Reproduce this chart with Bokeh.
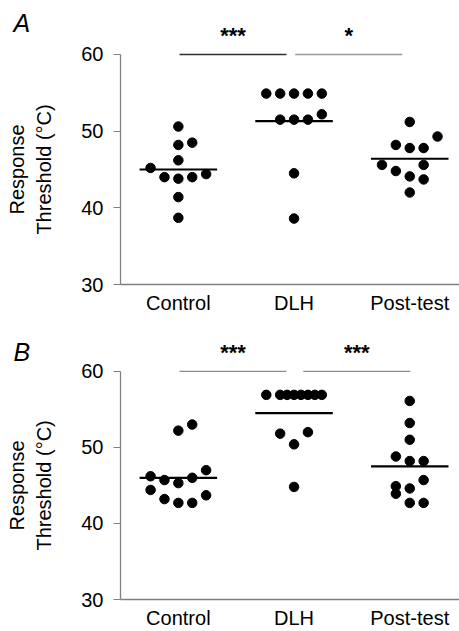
import math
from bokeh.plotting import figure
from bokeh.models import Label, FixedTicker
from bokeh.layouts import column
from bokeh.embed import file_html
from bokeh.resources import INLINE
from bokeh.core.properties import value

groups = ["Control", "DLH", "Post-test"]
y_ticks = [30, 40, 50, 60]
y_title = "Response\nThreshold (\u00b0C)"

# Panel A values (deg C) and horizontal dot slots
a_control = [50.6, 48.2, 48.5, 46.2, 45.2, 44.0, 43.8, 44.0, 44.4, 41.4, 38.7]
a_control_slot = [0, 0, 1, 0, -2, -1, 0, 1, 2, 0, 0]
a_dlh = [54.9, 54.9, 54.9, 54.9, 54.9, 51.5, 51.5, 51.5, 52.2, 44.5, 38.6]
a_dlh_slot = [-2, -1, 0, 1, 2, -1, 0, 1, 2, 0, 0]
a_post = [51.2, 49.3, 48.2, 47.8, 47.8, 45.6, 45.6, 44.8, 44.1, 43.7, 42.0]
a_post_slot = [0, 2, -1, 0, 1, -2, 1, -1, 0, 1, 0]
a_means = [45.0, 51.3, 46.4]
a_stars = ["***", "*"]

# Panel B values
b_control = [53.0, 52.2, 47.0, 46.2, 46.0, 45.7, 45.3, 44.4, 43.7, 43.2, 42.7, 42.7]
b_control_slot = [1, 0, 2, -2, 1, -1, 0, -2, 2, -1, 0, 1]
b_dlh = [56.9, 56.9, 56.9, 56.9, 56.9, 56.9, 56.9, 56.9, 51.8, 52.0, 50.4, 44.8]
b_dlh_slot = [-2, -1, -0.5, 0, 0.5, 1, 1.5, 2, -1, 1, 0, 0]
b_post = [56.1, 53.2, 51.0, 48.8, 48.2, 48.2, 45.7, 44.9, 44.6, 43.9, 42.7, 42.7]
b_post_slot = [0, 0, 0, -1, 0, 1, 1, -1, 0, -1, 0, 1]
b_means = [46.0, 54.5, 47.5]
b_stars = ["***", "***"]

comparisons = [(1, 2), (2, 3)]
SLOT = 0.12
FONT = "Liberation Sans"
AXIS_GRAY = "#808080"


def panel(letter, series, slots, means, stars, height, ymax, bottom, letter_y,
          line_colors, line_shift):
    p = figure(width=459, height=height, x_range=(0.5, 3.43), y_range=(30, ymax),
               output_backend="svg", toolbar_location=None,
               min_border_left=120, min_border_right=0, min_border_top=0,
               min_border_bottom=bottom)
    p.outline_line_color = None
    p.xgrid.visible = False
    p.ygrid.visible = False

    for gi, (vals, sl) in enumerate(zip(series, slots)):
        xs = [gi + 1 + s * SLOT for s in sl]
        p.scatter(xs, vals, size=9.5, color="black")
        p.segment(x0=[gi + 1 - 0.335], x1=[gi + 1 + 0.335], y0=[means[gi]], y1=[means[gi]],
                  line_color="black", line_width=2.2)

    for (a, b), s, c, sh in zip(comparisons, stars, line_colors, line_shift):
        x0 = a + 0.01 + sh
        x1 = b - 0.065 + sh
        p.segment(x0=[x0], x1=[x1], y0=[60], y1=[60], line_color=c, line_width=1.3)
        p.text(x=[(x0 + x1) / 2], y=[62.5], text=[s], text_align="center",
               text_baseline="alphabetic", text_font=value(FONT),
               text_font_size="22px", text_font_style="bold", text_color="black")

    xa = p.xaxis[0]
    xa.ticker = FixedTicker(ticks=[1, 2, 3])
    xa.major_label_overrides = {1: groups[0], 2: groups[1], 3: groups[2]}
    xa.major_tick_in = 0
    xa.major_tick_out = 0
    xa.major_tick_line_color = None
    xa.minor_tick_line_color = None
    xa.axis_line_color = AXIS_GRAY
    xa.axis_line_width = 1.3
    xa.major_label_text_font = FONT
    xa.major_label_text_font_size = "20px"
    xa.major_label_text_color = "black"
    xa.major_label_standoff = 7

    ya = p.yaxis[0]
    ya.ticker = FixedTicker(ticks=y_ticks)
    ya.bounds = (30, 60)
    ya.minor_tick_line_color = None
    ya.major_tick_in = 0
    ya.major_tick_out = 7
    ya.major_tick_line_color = AXIS_GRAY
    ya.axis_line_color = AXIS_GRAY
    ya.axis_line_width = 1.3
    ya.major_label_text_font = FONT
    ya.major_label_text_font_size = "20px"
    ya.major_label_text_color = "black"
    ya.major_label_standoff = 10

    ylab = Label(x=0, y=45, x_units="screen", y_units="data", text=y_title,
                 angle=math.pi / 2, text_align="center", text_baseline="middle",
                 text_font=FONT, text_font_size="20px", text_color="black",
                 text_line_height=1.2)
    p.add_layout(ylab, "left")

    lab = Label(x=0, y=letter_y, x_units="screen", y_units="screen",
                text=letter, text_font=FONT, text_font_size="25px",
                text_font_style="italic", text_color="black",
                text_baseline="alphabetic")
    p.add_layout(lab, "left")
    return p


pa = panel("A", [a_control, a_dlh, a_post], [a_control_slot, a_dlh_slot, a_post_slot],
           a_means, a_stars, 318, 67.04, 34, 262, ["#303030", "#999999"], [0.0, 0.0])
pb = panel("B", [b_control, b_dlh, b_post], [b_control_slot, b_dlh_slot, b_post_slot],
           b_means, b_stars, 313, 66.94, 31, 248, ["#8c8c8c", "#8c8c8c"], [0.0, 0.07])

layout = column(pa, pb, spacing=0)
open("out.html", "w").write(file_html(layout, INLINE))
